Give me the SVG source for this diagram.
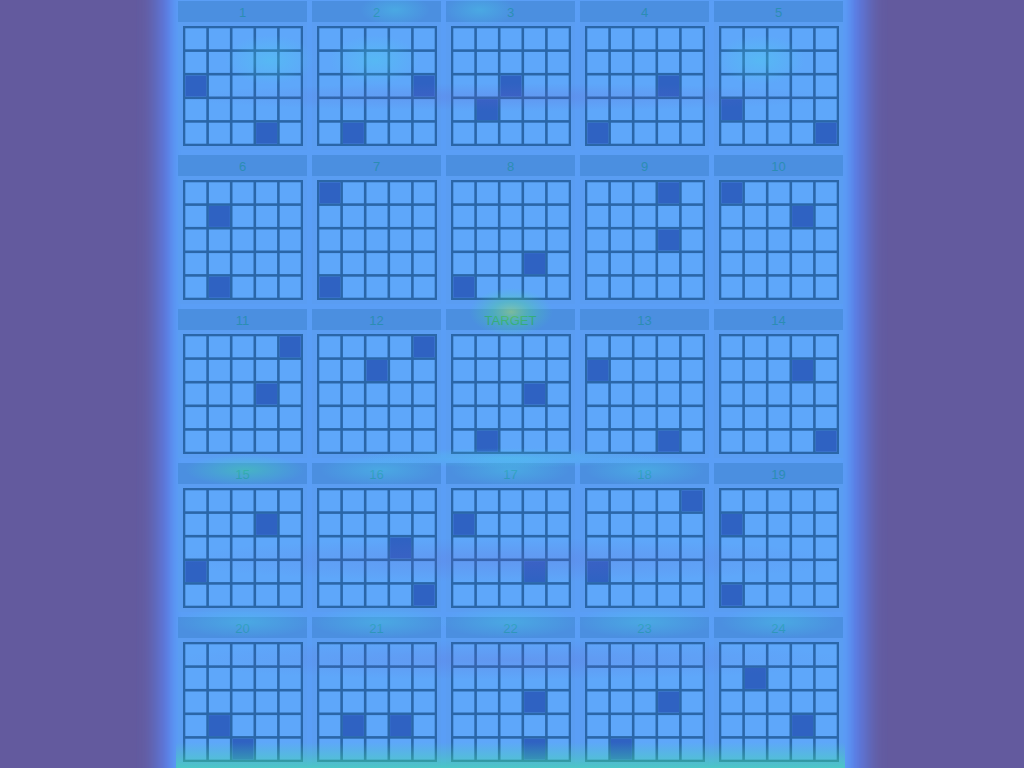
<svg xmlns="http://www.w3.org/2000/svg" xmlns:xlink="http://www.w3.org/1999/xlink" width="1024" height="768" viewBox="0 0 1024 768">
<style>
.card{fill:#5a9df2}
.hdr{fill:#4b8fe0}
.lbl{font-family:"Liberation Sans",Arial,sans-serif;font-size:13px;fill:#2b8db4;text-anchor:middle}
.tg{fill:#2f9a7a}
.gl{fill:#2a66a8}
.cell{fill:#5ea7fa}
.dk{fill:#2f62c2}
</style>
<defs>
<filter id="blur" x="-20%" y="-20%" width="140%" height="140%"><feGaussianBlur stdDeviation="10"/></filter>
<filter id="blur2" x="-10%" y="-10%" width="120%" height="120%"><feGaussianBlur stdDeviation="5"/></filter>
<g id="grid">
<rect class="gl" x="0" y="0" width="120" height="120"/>
<rect class="cell" x="2.3" y="2.3" width="21" height="21"/><rect class="cell" x="25.9" y="2.3" width="21" height="21"/><rect class="cell" x="49.5" y="2.3" width="21" height="21"/><rect class="cell" x="73.1" y="2.3" width="21" height="21"/><rect class="cell" x="96.7" y="2.3" width="21" height="21"/>
<rect class="cell" x="2.3" y="25.9" width="21" height="21"/><rect class="cell" x="25.9" y="25.9" width="21" height="21"/><rect class="cell" x="49.5" y="25.9" width="21" height="21"/><rect class="cell" x="73.1" y="25.9" width="21" height="21"/><rect class="cell" x="96.7" y="25.9" width="21" height="21"/>
<rect class="cell" x="2.3" y="49.5" width="21" height="21"/><rect class="cell" x="25.9" y="49.5" width="21" height="21"/><rect class="cell" x="49.5" y="49.5" width="21" height="21"/><rect class="cell" x="73.1" y="49.5" width="21" height="21"/><rect class="cell" x="96.7" y="49.5" width="21" height="21"/>
<rect class="cell" x="2.3" y="73.1" width="21" height="21"/><rect class="cell" x="25.9" y="73.1" width="21" height="21"/><rect class="cell" x="49.5" y="73.1" width="21" height="21"/><rect class="cell" x="73.1" y="73.1" width="21" height="21"/><rect class="cell" x="96.7" y="73.1" width="21" height="21"/>
<rect class="cell" x="2.3" y="96.7" width="21" height="21"/><rect class="cell" x="25.9" y="96.7" width="21" height="21"/><rect class="cell" x="49.5" y="96.7" width="21" height="21"/><rect class="cell" x="73.1" y="96.7" width="21" height="21"/><rect class="cell" x="96.7" y="96.7" width="21" height="21"/>
</g>
<g id="cardbase">
<rect class="card" x="0" y="0" width="129" height="149"/>
<rect class="hdr" x="0" y="0" width="129" height="21"/>
<use xlink:href="#grid" x="5" y="25"/>
</g>
<radialGradient id="hotY"><stop offset="0" stop-color="#b8f048" stop-opacity="0.45"/><stop offset="0.45" stop-color="#50e878" stop-opacity="0.3"/><stop offset="1" stop-color="#40e0a0" stop-opacity="0"/></radialGradient>
<radialGradient id="hotG"><stop offset="0" stop-color="#40e0a0" stop-opacity="0.45"/><stop offset="1" stop-color="#40e0c0" stop-opacity="0"/></radialGradient>
<radialGradient id="hotC"><stop offset="0" stop-color="#48d8e8" stop-opacity="0.35"/><stop offset="1" stop-color="#48d8e8" stop-opacity="0"/></radialGradient>
<radialGradient id="coolP"><stop offset="0" stop-color="#6a60d0" stop-opacity="0.22"/><stop offset="1" stop-color="#6a60d0" stop-opacity="0"/></radialGradient>
<linearGradient id="bottomG" x1="0" y1="0" x2="0" y2="1"><stop offset="0" stop-color="#40e0a0" stop-opacity="0"/><stop offset="1" stop-color="#40e8a0" stop-opacity="0.55"/></linearGradient>
</defs>
<rect x="0" y="0" width="1024" height="768" fill="#635a9e"/>
<rect x="158" y="-30" width="708" height="830" fill="#5a80ec" filter="url(#blur)"/>
<rect x="172" y="-10" width="678" height="790" fill="#5a9ef6" filter="url(#blur2)"/>
<g id="card-1" transform="translate(178,1)"><use xlink:href="#cardbase"/><text class="lbl" x="64.5" y="16">1</text><rect class="dk" x="7.3" y="74.5" width="21" height="21"/><rect class="dk" x="78.1" y="121.7" width="21" height="21"/></g>
<g id="card-2" transform="translate(312,1)"><use xlink:href="#cardbase"/><text class="lbl" x="64.5" y="16">2</text><rect class="dk" x="101.7" y="74.5" width="21" height="21"/><rect class="dk" x="30.9" y="121.7" width="21" height="21"/></g>
<g id="card-3" transform="translate(446,1)"><use xlink:href="#cardbase"/><text class="lbl" x="64.5" y="16">3</text><rect class="dk" x="54.5" y="74.5" width="21" height="21"/><rect class="dk" x="30.9" y="98.1" width="21" height="21"/></g>
<g id="card-4" transform="translate(580,1)"><use xlink:href="#cardbase"/><text class="lbl" x="64.5" y="16">4</text><rect class="dk" x="78.1" y="74.5" width="21" height="21"/><rect class="dk" x="7.3" y="121.7" width="21" height="21"/></g>
<g id="card-5" transform="translate(714,1)"><use xlink:href="#cardbase"/><text class="lbl" x="64.5" y="16">5</text><rect class="dk" x="7.3" y="98.1" width="21" height="21"/><rect class="dk" x="101.7" y="121.7" width="21" height="21"/></g>
<g id="card-6" transform="translate(178,155)"><use xlink:href="#cardbase"/><text class="lbl" x="64.5" y="16">6</text><rect class="dk" x="30.9" y="50.9" width="21" height="21"/><rect class="dk" x="30.9" y="121.7" width="21" height="21"/></g>
<g id="card-7" transform="translate(312,155)"><use xlink:href="#cardbase"/><text class="lbl" x="64.5" y="16">7</text><rect class="dk" x="7.3" y="27.3" width="21" height="21"/><rect class="dk" x="7.3" y="121.7" width="21" height="21"/></g>
<g id="card-8" transform="translate(446,155)"><use xlink:href="#cardbase"/><text class="lbl" x="64.5" y="16">8</text><rect class="dk" x="78.1" y="98.1" width="21" height="21"/><rect class="dk" x="7.3" y="121.7" width="21" height="21"/></g>
<g id="card-9" transform="translate(580,155)"><use xlink:href="#cardbase"/><text class="lbl" x="64.5" y="16">9</text><rect class="dk" x="78.1" y="27.3" width="21" height="21"/><rect class="dk" x="78.1" y="74.5" width="21" height="21"/></g>
<g id="card-10" transform="translate(714,155)"><use xlink:href="#cardbase"/><text class="lbl" x="64.5" y="16">10</text><rect class="dk" x="7.3" y="27.3" width="21" height="21"/><rect class="dk" x="78.1" y="50.9" width="21" height="21"/></g>
<g id="card-11" transform="translate(178,309)"><use xlink:href="#cardbase"/><text class="lbl" x="64.5" y="16">11</text><rect class="dk" x="101.7" y="27.3" width="21" height="21"/><rect class="dk" x="78.1" y="74.5" width="21" height="21"/></g>
<g id="card-12" transform="translate(312,309)"><use xlink:href="#cardbase"/><text class="lbl" x="64.5" y="16">12</text><rect class="dk" x="101.7" y="27.3" width="21" height="21"/><rect class="dk" x="54.5" y="50.9" width="21" height="21"/></g>
<g id="card-target" transform="translate(446,309)"><use xlink:href="#cardbase"/><text class="lbl tg" x="64.5" y="16">TARGET</text><rect class="dk" x="78.1" y="74.5" width="21" height="21"/><rect class="dk" x="30.9" y="121.7" width="21" height="21"/></g>
<g id="card-13" transform="translate(580,309)"><use xlink:href="#cardbase"/><text class="lbl" x="64.5" y="16">13</text><rect class="dk" x="7.3" y="50.9" width="21" height="21"/><rect class="dk" x="78.1" y="121.7" width="21" height="21"/></g>
<g id="card-14" transform="translate(714,309)"><use xlink:href="#cardbase"/><text class="lbl" x="64.5" y="16">14</text><rect class="dk" x="78.1" y="50.9" width="21" height="21"/><rect class="dk" x="101.7" y="121.7" width="21" height="21"/></g>
<g id="card-15" transform="translate(178,463)"><use xlink:href="#cardbase"/><text class="lbl" x="64.5" y="16">15</text><rect class="dk" x="78.1" y="50.9" width="21" height="21"/><rect class="dk" x="7.3" y="98.1" width="21" height="21"/></g>
<g id="card-16" transform="translate(312,463)"><use xlink:href="#cardbase"/><text class="lbl" x="64.5" y="16">16</text><rect class="dk" x="78.1" y="74.5" width="21" height="21"/><rect class="dk" x="101.7" y="121.7" width="21" height="21"/></g>
<g id="card-17" transform="translate(446,463)"><use xlink:href="#cardbase"/><text class="lbl" x="64.5" y="16">17</text><rect class="dk" x="7.3" y="50.9" width="21" height="21"/><rect class="dk" x="78.1" y="98.1" width="21" height="21"/></g>
<g id="card-18" transform="translate(580,463)"><use xlink:href="#cardbase"/><text class="lbl" x="64.5" y="16">18</text><rect class="dk" x="101.7" y="27.3" width="21" height="21"/><rect class="dk" x="7.3" y="98.1" width="21" height="21"/></g>
<g id="card-19" transform="translate(714,463)"><use xlink:href="#cardbase"/><text class="lbl" x="64.5" y="16">19</text><rect class="dk" x="7.3" y="50.9" width="21" height="21"/><rect class="dk" x="7.3" y="121.7" width="21" height="21"/></g>
<g id="card-20" transform="translate(178,617)"><use xlink:href="#cardbase"/><text class="lbl" x="64.5" y="16">20</text><rect class="dk" x="30.9" y="98.1" width="21" height="21"/><rect class="dk" x="54.5" y="121.7" width="21" height="21"/></g>
<g id="card-21" transform="translate(312,617)"><use xlink:href="#cardbase"/><text class="lbl" x="64.5" y="16">21</text><rect class="dk" x="30.9" y="98.1" width="21" height="21"/><rect class="dk" x="78.1" y="98.1" width="21" height="21"/></g>
<g id="card-22" transform="translate(446,617)"><use xlink:href="#cardbase"/><text class="lbl" x="64.5" y="16">22</text><rect class="dk" x="78.1" y="74.5" width="21" height="21"/><rect class="dk" x="78.1" y="121.7" width="21" height="21"/></g>
<g id="card-23" transform="translate(580,617)"><use xlink:href="#cardbase"/><text class="lbl" x="64.5" y="16">23</text><rect class="dk" x="78.1" y="74.5" width="21" height="21"/><rect class="dk" x="30.9" y="121.7" width="21" height="21"/></g>
<g id="card-24" transform="translate(714,617)"><use xlink:href="#cardbase"/><text class="lbl" x="64.5" y="16">24</text><rect class="dk" x="30.9" y="50.9" width="21" height="21"/><rect class="dk" x="78.1" y="98.1" width="21" height="21"/></g>
<g id="heat">
<ellipse cx="511" cy="312" rx="42" ry="24" fill="url(#hotY)"/>
<rect x="176" y="742" width="669" height="26" fill="url(#bottomG)"/>
<ellipse cx="245" cy="470" rx="60" ry="16" fill="url(#hotG)"/>
<ellipse cx="380" cy="470" rx="60" ry="16" fill="url(#hotC)"/>
<ellipse cx="510" cy="470" rx="60" ry="16" fill="url(#hotC)"/>
<ellipse cx="645" cy="470" rx="60" ry="16" fill="url(#hotC)"/>
<ellipse cx="245" cy="622" rx="70" ry="16" fill="url(#hotC)"/>
<ellipse cx="380" cy="622" rx="70" ry="16" fill="url(#hotC)"/>
<ellipse cx="510" cy="622" rx="70" ry="16" fill="url(#hotC)"/>
<ellipse cx="645" cy="622" rx="70" ry="16" fill="url(#hotC)"/>
<ellipse cx="780" cy="622" rx="60" ry="16" fill="url(#hotC)"/>
<ellipse cx="395" cy="10" rx="35" ry="16" fill="url(#hotC)"/>
<ellipse cx="480" cy="10" rx="35" ry="16" fill="url(#hotC)"/>
<ellipse cx="270" cy="60" rx="45" ry="25" fill="url(#hotC)"/>
<ellipse cx="375" cy="60" rx="45" ry="25" fill="url(#hotC)"/>
<ellipse cx="510" cy="458" rx="150" ry="10" fill="url(#hotC)"/>
<ellipse cx="760" cy="60" rx="45" ry="25" fill="url(#hotC)"/>
<ellipse cx="510" cy="97" rx="340" ry="14" fill="url(#coolP)"/>
<ellipse cx="510" cy="560" rx="340" ry="22" fill="url(#coolP)"/>
<ellipse cx="510" cy="660" rx="340" ry="20" fill="url(#coolP)"/>
</g>
</svg>
